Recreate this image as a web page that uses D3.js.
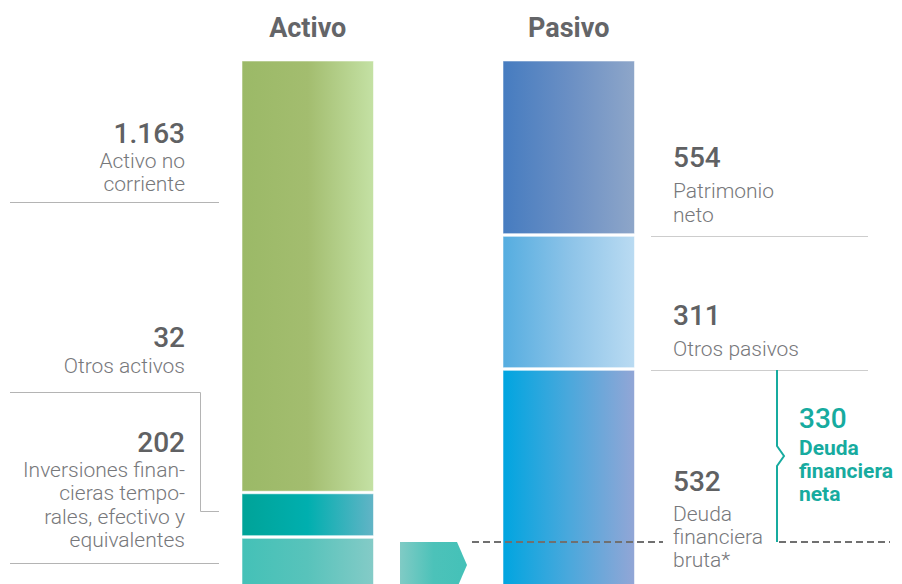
<!DOCTYPE html>
<html>
<head>
<meta charset="utf-8">
<script src="https://cdn.jsdelivr.net/npm/d3@7"></script>
<style>
  body { margin: 0; background: #fff; }
  svg { display: block; font-family: Roboto, "Noto Sans", sans-serif; }
</style>
</head>
<body>
<div id="chart"></div>
<script>
// data (millones de euros)
var columns = ["Activo", "Pasivo"];
var activoValues = [1163, 32, 202];
var activoNumbers = ["1.163", "32", "202"];
var activoLabels = [["Activo no", "corriente"], ["Otros activos"],
  ["Inversiones finan-", "cieras tempo-", "rales, efectivo y", "equivalentes"]];
var pasivoValues = [554, 311, 532];
var pasivoNumbers = ["554", "311", "532"];
var pasivoLabels = [["Patrimonio", "neto"], ["Otros pasivos"], ["Deuda", "financiera", "bruta*"]];
var netDebt = 330;
var netDebtNumber = "330";
var netDebtLabel = ["Deuda", "financiera", "neta"];

var activoColors = [["#9bb967", "#a3bd6f", "#c4e1a4"], ["#00a398", "#00afaf", "#62b4c6"], ["#44c1b7", "#58c3bb", "#84cbc7"]];
var pasivoColors = [["#467cc0", "#6a8fc4", "#8ea6c9"], ["#55ade0", "#8cc3e8", "#badbf2"], ["#00a5e0", "#4aa8dc", "#92a6d6"]];

var width = 902, height = 584;

var svg = d3.select("#chart")
  .append("svg")
  .attr("width", width)
  .attr("height", height);

var defs = svg.append("defs");
function gradient(id, cols) {
  var g = defs.append("linearGradient").attr("id", id)
    .attr("x1", "0%").attr("x2", "100%").attr("y1", "0%").attr("y2", "0%");
  g.append("stop").attr("offset", "0%").attr("stop-color", cols[0]);
  g.append("stop").attr("offset", "50%").attr("stop-color", cols[1]);
  g.append("stop").attr("offset", "100%").attr("stop-color", cols[2]);
}
activoColors.forEach(function(c, i) { gradient("ga" + i, c); });
pasivoColors.forEach(function(c, i) { gradient("gp" + i, c); });
gradient("garrow", ["#80cbc5", "#4cc2b9", "#44c1b8"]);

// stacks
function stack(values) {
  var acc = 0;
  return values.map(function(v, i) {
    var d = {i: i, value: v, y0: acc, y1: acc + v};
    acc += v;
    return d;
  });
}
var activo = stack(activoValues);
var pasivo = stack(pasivoValues);

// stylised vertical scale: piecewise over every stack break
var breaks = d3.sort(Array.from(new Set(
  activo.map(function(d) { return d.y0; })
    .concat(pasivo.map(function(d) { return d.y0; }))
    .concat([d3.sum(activoValues)])
)));
var y = d3.scaleLinear()
  .domain(breaks)
  .range([61, 235, 369, 492.5, 537, 660]);

var x = d3.scalePoint()
  .domain(columns)
  .range([242, 503]);
var barW = 131.5;

// titles
svg.selectAll(".title")
  .data(columns)
  .enter()
  .append("text")
    .attr("x", function(d) { return x(d) + barW / 2; })
    .attr("y", 37)
    .attr("text-anchor", "middle")
    .style("font-size", "27px")
    .style("font-weight", "700")
    .style("fill", "#646568")
    .text(function(d) { return d; });

// bars
function drawBar(data, col, prefix) {
  svg.append("g")
    .selectAll("rect")
    .data(data)
    .enter()
    .append("rect")
      .attr("x", x(col))
      .attr("width", barW)
      .attr("y", function(d) { return y(d.y0) + (d.i > 0 ? 1.3 : 0); })
      .attr("height", function(d) { return y(d.y1) - y(d.y0) - (d.i > 0 ? 2.6 : 1.3); })
      .style("fill", function(d) { return "url(#" + prefix + d.i + ")"; })
      .style("stroke", "rgba(255,255,255,0.55)")
      .style("stroke-width", 1);
}
drawBar(activo, "Activo", "ga");
drawBar(pasivo, "Pasivo", "gp");

// guide lines
var grey = "#b4b4b4";
var lines = svg.append("g").style("fill", "none").style("stroke", grey).style("stroke-width", 1);
lines.append("line").attr("x1", 10).attr("x2", 219).attr("y1", 202.5).attr("y2", 202.5);
lines.append("path").attr("d", "M10,392.5H200.5V511.5H219");
lines.append("line").attr("x1", 10).attr("x2", 219).attr("y1", 563.5).attr("y2", 563.5);
pasivo.slice(0, 2).forEach(function(d) {
  lines.append("line").attr("x1", 651).attr("x2", 868)
    .attr("y1", Math.round(y(d.y1)) + 1.5).attr("y2", Math.round(y(d.y1)) + 1.5)
    .style("stroke", "#cdcdcd");
});

// labels
function label(g, anchor, xx, numY, num, lines, firstGap, lineH, numColor, txtColor, txtWeight, txtSize) {
  var t = g.append("text").attr("text-anchor", anchor);
  t.append("tspan").attr("x", xx).attr("y", numY)
    .style("font-size", "28px").style("font-weight", "500").style("fill", numColor)
    .text(num);
  lines.forEach(function(l, k) {
    t.append("tspan").attr("x", xx).attr("y", numY + firstGap + k * lineH)
      .style("font-size", txtSize).style("font-weight", txtWeight).style("fill", txtColor)
      .text(l);
  });
}
var lab = svg.append("g");
var leftNumY = [143, 347, 452];
var leftGaps = [25, 26, 25];
activo.forEach(function(d) {
  label(lab, "end", 185, leftNumY[d.i], activoNumbers[d.i], activoLabels[d.i], leftGaps[d.i], 23.3, "#606163", "#77787b", "300", "21px");
});
var rightNumY = [167, 325, 491];
pasivo.forEach(function(d) {
  label(lab, "start", 673, rightNumY[d.i], pasivoNumbers[d.i], pasivoLabels[d.i], d.i == 2 ? 30 : 31, d.i == 2 ? 22.8 : 24, "#606163", "#77787b", "300", "21px");
});

// net debt bracket
var teal = "#17ab9f";
var debt = pasivo[2];
var yTop = y(debt.y0) + 1, yBot = y(debt.y0 + netDebt) + 5, yMid = (yTop + yBot) / 2;
svg.append("path")
  .attr("d", "M777," + yTop + "V" + (yMid - 10) + "L784," + yMid + "L777," + (yMid + 10) + "V" + yBot)
  .style("fill", "none").style("stroke", teal).style("stroke-width", 2);
label(lab, "start", 799, 428, netDebtNumber, netDebtLabel, 27, 23, teal, teal, "700", "21px");

// dashed level line
var dash = svg.append("g").style("stroke", "#707070").style("stroke-width", 2).style("stroke-dasharray", "7,4");
dash.append("line").attr("x1", 472).attr("x2", 663).attr("y1", yBot).attr("y2", yBot);
dash.append("line").attr("x1", 779).attr("x2", 890).attr("y1", yBot).attr("y2", yBot);

// arrow
var aTop = yBot, aMid = aTop + 23;
svg.append("path")
  .attr("d", "M400," + aTop + "H457L467," + aMid + "L457," + (aMid + 23) + "H400Z")
  .style("fill", "url(#garrow)");
</script>
</body>
</html>
